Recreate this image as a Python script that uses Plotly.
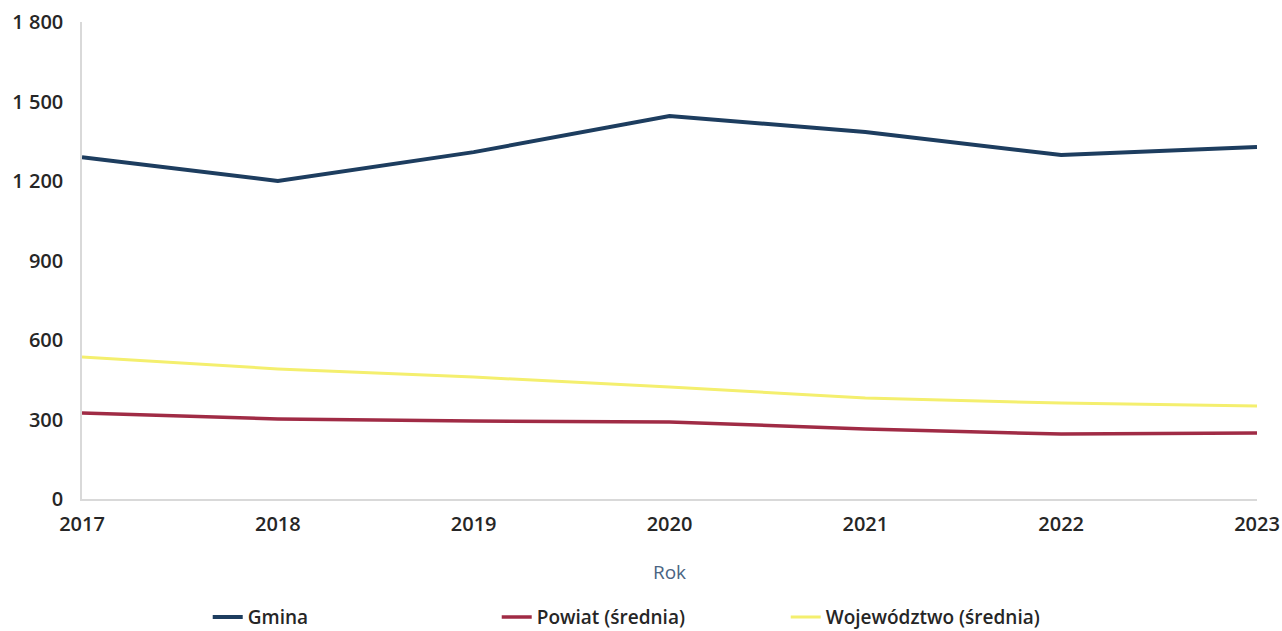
import plotly.graph_objects as go

years = [2017, 2018, 2019, 2020, 2021, 2022, 2023]
gmina = [1290, 1200, 1309, 1445, 1385, 1298, 1328]
powiat = [325, 302, 294, 291, 264, 245, 249]
wojewodztwo = [536, 491, 460, 423, 381, 362, 351]

y_ticks = [0, 300, 600, 900, 1200, 1500, 1800]

fig = go.Figure()
fig.add_trace(go.Scatter(x=years, y=gmina, name="Gmina", mode="lines",
                         line=dict(color="#1d3d5f", width=4)))
fig.add_trace(go.Scatter(x=years, y=powiat, name="Powiat (średnia)", mode="lines",
                         line=dict(color="#a02b45", width=3.5)))
fig.add_trace(go.Scatter(x=years, y=wojewodztwo, name="Województwo (średnia)", mode="lines",
                         line=dict(color="#f4ef6e", width=3)))

tick_font = dict(family="Open Sans", size=20, color="#262626", weight=600)

fig.update_layout(
    width=1282,
    height=631,
    margin=dict(l=82, r=25, t=22, b=132),
    plot_bgcolor="white",
    paper_bgcolor="white",
    separators=". ",
    xaxis=dict(
        range=[2017, 2023],
        tickvals=years,
        showgrid=False,
        zeroline=False,
        showline=True,
        linecolor="#d9d9d9",
        linewidth=1.5,
        ticks="",
        tickfont=tick_font,
        ticklabelstandoff=6,
        automargin=False,
        title=dict(text="Rok", font=dict(family="Open Sans", size=19, color="#4a6482"),
                   standoff=30),
    ),
    yaxis=dict(
        range=[0, 1800],
        tickvals=y_ticks,
        tickformat=",d",
        separatethousands=True,
        showgrid=False,
        zeroline=False,
        showline=True,
        linecolor="#d9d9d9",
        linewidth=1.5,
        ticks="",
        tickfont=tick_font,
        ticklabelstandoff=13,
        automargin=False,
    ),
    legend=dict(
        orientation="h",
        x=0.107,
        xanchor="left",
        yref="container",
        y=0.022,
        yanchor="middle",
        entrywidth=244,
        entrywidthmode="pixels",
        itemwidth=30,
        font=dict(family="Open Sans", size=19, color="#262626", weight=600),
    ),
)

# drop the default body margin so the figure fills the window exactly
fig.write_html(
    "out.html",
    config={"displayModeBar": False},
    post_script="document.body.style.margin='0';document.body.style.overflow='hidden';",
)
